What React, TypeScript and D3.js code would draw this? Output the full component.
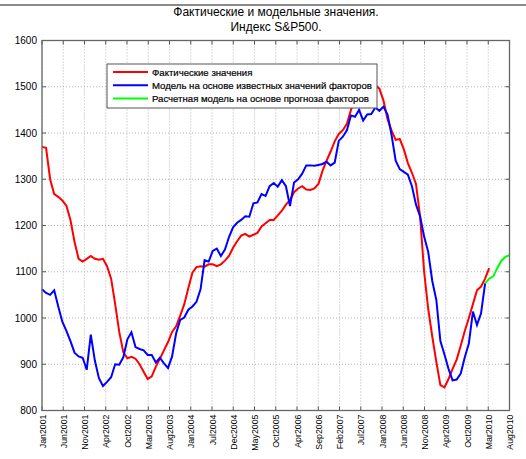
import * as d3 from "d3";

// S&P500, monthly, starting Jan 2001 (index 0)
const actual = [
  1370, 1368, 1300, 1268, 1262, 1254, 1243, 1212, 1165, 1128,
  1122, 1128, 1134, 1128, 1126, 1128, 1112, 1085, 1030, 970,
  926, 913, 916, 912, 900, 884, 868, 874, 895, 912,
  930, 948, 970, 982, 1005, 1030, 1065, 1098, 1110, 1112,
  1111, 1116, 1116, 1112, 1116, 1124, 1134, 1152, 1166, 1178,
  1182, 1176, 1180, 1184, 1198, 1205, 1212, 1212, 1222, 1232,
  1245, 1255, 1272, 1280, 1285, 1278, 1277, 1280, 1290, 1318,
  1340, 1360, 1382, 1398, 1406, 1420, 1450, 1472, 1490, 1505,
  1515, 1510, 1503, 1496, 1470, 1430, 1405, 1385, 1387, 1365,
  1335, 1314, 1290, 1220, 1100, 1020, 960, 905, 855, 850,
  868, 890, 910, 940, 972, 1000, 1030, 1060, 1068, 1085,
  1108,
];

const modelKnown = [
  1062, 1054, 1050, 1060, 1025, 992, 972, 950, 925, 917,
  914, 888, 964, 908, 870, 853, 862, 872, 900, 899,
  915, 954, 969, 937, 933, 930, 920, 920, 904, 914,
  902, 892, 917, 967, 996, 1001, 1018, 1025, 1035, 1062,
  1125, 1122, 1145, 1150, 1134, 1148, 1175, 1196, 1206, 1212,
  1220, 1219, 1248, 1250, 1268, 1264, 1285, 1292, 1284, 1298,
  1285, 1242, 1293, 1300, 1312, 1330, 1330, 1329, 1331, 1333,
  1338, 1330, 1336, 1383, 1392, 1406, 1438, 1435, 1450, 1427,
  1440, 1441, 1455, 1448, 1457, 1440, 1395, 1340, 1322, 1316,
  1310, 1285, 1245, 1220, 1176, 1143, 1080, 1039, 950, 921,
  890, 865, 867, 880, 915, 945, 1014, 985, 1010, 1075,
];

// forecast-based model, starting at month index 109
const forecastStart = 109;
const modelForecast = [1075, 1085, 1090, 1108, 1124, 1132, 1136];

const tickLabels = [
  "Jan2001", "Jun2001", "Nov2001", "Apr2002", "Oct2002", "Mar2003", "Aug2003",
  "Jan2004", "Jul2004", "Dec2004", "May2005", "Oct2005", "Apr2006", "Sep2006",
  "Feb2007", "Jul2007", "Jan2008", "Jun2008", "Nov2008", "Apr2009", "Oct2009",
  "Mar2010", "Aug2010",
];
const yTicks = [800, 900, 1000, 1100, 1200, 1300, 1400, 1500, 1600];

const legendItems = [
  { label: "Фактические значения", color: "#ff0000" },
  { label: "Модель на основе известных значений факторов", color: "#0000ff" },
  { label: "Расчетная модель на основе прогноза факторов", color: "#00ff00" },
];

const W = 526;
const H = 459;
const left = 42;
const right = 509.5;
const top = 40.5;
const bottom = 410.5;
const lastMonth = 115;
const font = "'Liberation Sans', Arial, sans-serif";

export default function App() {
  const x = d3.scaleLinear().domain([0, lastMonth]).range([left, right]);
  const y = d3.scaleLinear().domain([800, 1600]).range([bottom, top]);

  const line = d3
    .line<[number, number]>()
    .x((d) => x(d[0]))
    .y((d) => y(d[1]));

  const redPts = actual.map((v, i) => [i, v] as [number, number]);
  const bluePts = modelKnown.map((v, i) => [i, v] as [number, number]);
  const greenPts = modelForecast.map((v, i) => [forecastStart + i, v] as [number, number]);

  const xTickPos = tickLabels.map((_, i) => (i * lastMonth) / (tickLabels.length - 1));

  return (
    <svg
      width={W}
      height={H}
      style={{ position: "absolute", left: 0, top: 0, background: "#fff" }}
      fontFamily={font}
    >
      <rect x={0} y={4} width={W} height={2} fill="#8a8a8a" />

      <text x={276} y={16} textAnchor="middle" fontSize={12}>
        Фактические и модельные значения.
      </text>
      <text x={276} y={31} textAnchor="middle" fontSize={12}>
        Индекс S&amp;P500.
      </text>

      {/* grid */}
      {xTickPos.map((m, i) => (
        <line
          key={"gx" + i}
          x1={x(m)}
          x2={x(m)}
          y1={top}
          y2={bottom}
          stroke="#b5b5b5"
          strokeWidth={1}
          strokeDasharray="1,2"
        />
      ))}
      {yTicks.map((v) => (
        <line
          key={"gy" + v}
          x1={left}
          x2={right}
          y1={y(v)}
          y2={y(v)}
          stroke="#b5b5b5"
          strokeWidth={1}
          strokeDasharray="1,2"
        />
      ))}

      {/* ticks */}
      {xTickPos.map((m, i) => (
        <g key={"tx" + i}>
          <line x1={x(m)} x2={x(m)} y1={bottom} y2={bottom - 4} stroke="#555" />
          <line x1={x(m)} x2={x(m)} y1={top} y2={top + 4} stroke="#555" />
          <text
            transform={`translate(${x(m) + 3.5},${bottom + 4}) rotate(-90)`}
            textAnchor="end"
            fontSize={8.8}
          >
            {tickLabels[i]}
          </text>
        </g>
      ))}
      {yTicks.map((v) => (
        <g key={"ty" + v}>
          <line x1={left} x2={left + 4} y1={y(v)} y2={y(v)} stroke="#555" />
          <line x1={right} x2={right - 4} y1={y(v)} y2={y(v)} stroke="#555" />
          <text x={left - 5} y={y(v) + 3.5} textAnchor="end" fontSize={10}>
            {v}
          </text>
        </g>
      ))}

      {/* series */}
      <path d={line(redPts) ?? ""} fill="none" stroke="#ff0000" strokeWidth={2} />
      <path d={line(bluePts) ?? ""} fill="none" stroke="#0000ff" strokeWidth={2} />
      <path d={line(greenPts) ?? ""} fill="none" stroke="#00ff00" strokeWidth={2} />

      {/* axes box */}
      <rect
        x={left}
        y={top}
        width={right - left}
        height={bottom - top}
        fill="none"
        stroke="#666"
        strokeWidth={1.3}
      />

      {/* legend */}
      <g transform="translate(107,64)">
        <rect x={0} y={0} width={270} height={44} fill="#fff" stroke="#555" strokeWidth={1} />
        {legendItems.map((it, i) => (
          <g key={it.label} transform={`translate(0,${8 + i * 13.3})`}>
            <line x1={6} x2={41} y1={0} y2={0} stroke={it.color} strokeWidth={2} />
            <text x={45} y={3.5} fontSize={9.6} stroke="#000" strokeWidth={0.2}>
              {it.label}
            </text>
          </g>
        ))}
      </g>
    </svg>
  );
}
